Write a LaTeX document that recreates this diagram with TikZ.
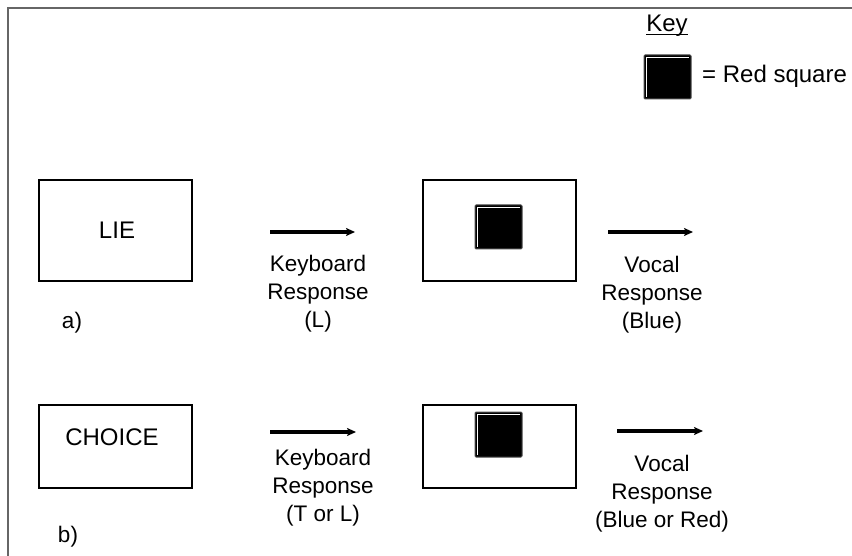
\documentclass[tikz,border=0pt]{standalone}
\usepackage{fontspec}
\setmainfont{Liberation Sans}
\usetikzlibrary{arrows.meta}
\begin{document}
\begin{tikzpicture}[x=1pt,y=-1pt,
  panel/.style={draw=black,line width=1.8pt,inner sep=0pt},
  lbl/.style={font=\fontsize{22.5}{28}\selectfont,align=center,inner sep=0pt},
  boxtxt/.style={font=\fontsize{24}{28}\selectfont,inner sep=0pt},
  resp/.style={line width=3.4pt,-{Stealth[length=9pt,width=8pt,inset=2pt]}},
  redsq/.style={fill=black,draw=black!70,line width=1pt,rounded corners=1pt}]
\useasboundingbox (0,0) rectangle (852,556);
\fill[white] (0,0) rectangle (852,556);
% frame
\draw[black!60,line width=1.5pt] (8,556) -- (8,8) -- (852,8);
% Key
\node[boxtxt] (key) at (667,26) {Key};
\draw[line width=1.2pt] ([yshift=-3pt]key.base west) -- ([yshift=-3pt]key.base east);
\newcommand\redsquare[4]{%
  \draw[redsq] (#1,#2) rectangle (#3,#4);
  \draw[white,line width=0.8pt] (#1+2,#4-2) -- (#1+2,#2+2) -- (#3-2,#2+2);}
\redsquare{644}{55}{691}{99}
\node[boxtxt,anchor=west] (keytxt) at (702,76) {= Red square};
% row a
\node[panel,minimum width=153pt,minimum height=101pt] (lie) at (115.5,230.5) {};
\node[boxtxt] (lietxt) at (117,230) {LIE};
\node[panel,minimum width=153pt,minimum height=101pt] (stima) at (499.5,230.5) {};
\redsquare{475}{205}{522}{249}
\coordinate (a1s) at (270,232); \coordinate (a1e) at (355,232);
\draw[resp] (a1s) -- (a1e);
\node[lbl] (kra) at (318,294) {Keyboard\\Response\\(L)};
\coordinate (a2s) at (608,232); \coordinate (a2e) at (693,232);
\draw[resp] (a2s) -- (a2e);
\node[lbl] (vra) at (652,295) {Vocal\\Response\\(Blue)};
\node[lbl] (alab) at (72,323) {a)};
% row b
\node[panel,minimum width=153pt,minimum height=83pt] (choice) at (115.5,446.5) {};
\node[boxtxt] (choicetxt) at (112,437) {CHOICE};
\node[panel,minimum width=153pt,minimum height=83pt] (stimb) at (499.5,446.5) {};
\redsquare{475}{412}{522}{457}
\coordinate (b1s) at (270,432); \coordinate (b1e) at (356,432);
\draw[resp] (b1s) -- (b1e);
\node[lbl] (krb) at (323,488) {Keyboard\\Response\\(T or L)};
\coordinate (b2s) at (617,431); \coordinate (b2e) at (703,431);
\draw[resp] (b2s) -- (b2e);
\node[lbl] (vrb) at (662,494) {Vocal\\Response\\(Blue or Red)};
\node[lbl] (blab) at (68,537) {b)};
\end{tikzpicture}
\end{document}
